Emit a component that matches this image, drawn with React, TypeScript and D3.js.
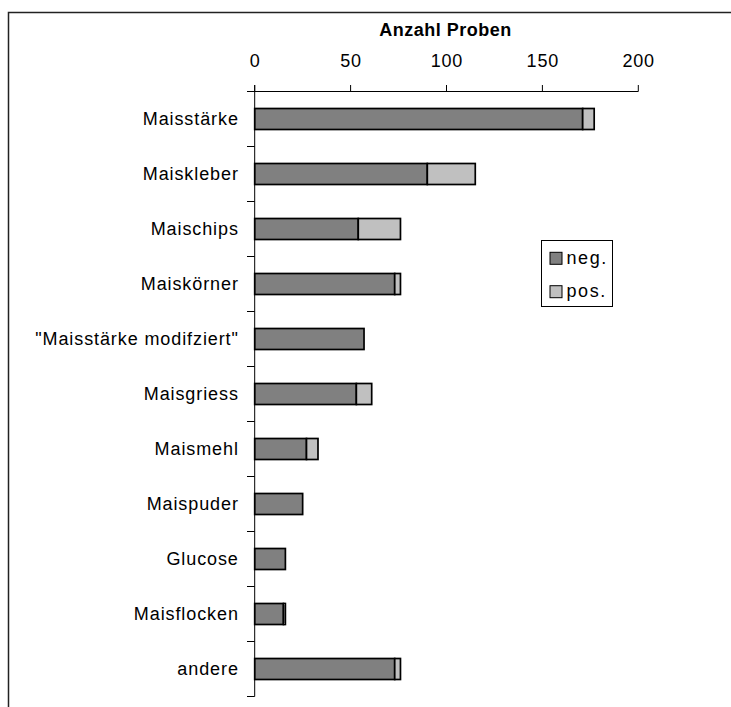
import React from "react";
import * as d3 from "d3";

const categories = [
  "Maisstärke",
  "Maiskleber",
  "Maischips",
  "Maiskörner",
  "\"Maisstärke modifziert\"",
  "Maisgriess",
  "Maismehl",
  "Maispuder",
  "Glucose",
  "Maisflocken",
  "andere",
];
const negValues = [171, 90, 54, 73, 57, 53, 27, 25, 16, 15, 73];
const posValues = [6, 25, 22, 3, 0, 8, 6, 0, 0, 1, 3];
const xTicks = [0, 50, 100, 150, 200];
const seriesNames = ["neg.", "pos."];
const seriesColors = ["#808080", "#c0c0c0"];
const axisTitle = "Anzahl Proben";

export default function App() {
  const W = 731;
  const H = 707;
  const x = d3.scaleLinear().domain([0, 200]).range([254.7, 638.3]);
  const band = d3.scaleBand<string>().domain(categories).range([91.5, 696.5]);
  const font = "'Liberation Sans', Arial, sans-serif";
  const stacked = categories.map((c, i) => ({ c, neg: negValues[i], pos: posValues[i] }));
  const stack = d3.stack<any>().keys(["neg", "pos"])(stacked);

  return (
    <svg
      width={W}
      height={H}
      style={{ position: "absolute", left: 0, top: 0, background: "#fff" }}
      fontFamily={font}
    >
      <rect x={0} y={0} width={W} height={H} fill="#fff" />
      {/* outer frame */}
      <path d={`M8.5,${H + 5} V12.5 H${W + 5}`} fill="none" stroke="#222" strokeWidth={1.5} />

      {/* title */}
      <text x={x(100) - 1} y={36} textAnchor="middle" fontSize={18} fontWeight="bold" letterSpacing={0.5} fill="#000">
        {axisTitle}
      </text>

      {/* x ticks labels */}
      {xTicks.map((t) => (
        <text key={t} x={x(t) + 0.4} y={67.3} textAnchor="middle" fontSize={18} letterSpacing={0.8} fill="#000">
          {t}
        </text>
      ))}

      {/* bars */}
      {stack.map((layer, li) =>
        layer.map((d, i) =>
          d[1] - d[0] > 0 ? (
            <rect
              key={`${li}-${i}`}
              x={x(d[0])}
              y={band(categories[i])! + band.bandwidth() / 2 - 10.5}
              width={x(d[1]) - x(d[0])}
              height={21}
              fill={seriesColors[li]}
              stroke="#000"
              strokeWidth={1.7}
            />
          ) : null
        )
      )}

      {/* x axis */}
      <line x1={247} x2={x(200)} y1={91.5} y2={91.5} stroke="#000" strokeWidth={1} />
      {xTicks.map((t) => (
        <line key={t} x1={x(t)} x2={x(t)} y1={85} y2={91.5} stroke="#000" strokeWidth={1} />
      ))}

      {/* y axis */}
      <line x1={x(0)} x2={x(0)} y1={85} y2={696.5} stroke="#000" strokeWidth={1} />
      {categories.map((c, i) => (
        <line
          key={`t${i}`}
          x1={247}
          x2={x(0)}
          y1={band(c)! + band.bandwidth()}
          y2={band(c)! + band.bandwidth()}
          stroke="#000"
          strokeWidth={1}
        />
      ))}

      {/* category labels */}
      {categories.map((c) => (
        <text
          key={c}
          x={238.8}
          y={band(c)! + band.bandwidth() / 2 + 6.3}
          textAnchor="end"
          fontSize={18}
          letterSpacing={0.9}
          fill="#000"
        >
          {c}
        </text>
      ))}

      {/* legend */}
      <rect x={541.5} y={240.5} width={71} height={66} fill="#fff" stroke="#000" strokeWidth={1} />
      {seriesNames.map((s, i) => (
        <g key={s}>
          <rect x={550} y={252.3 + i * 33.4} width={12} height={12} fill={seriesColors[i]} stroke="#000" strokeWidth={1} />
          <text x={566.5} y={263.8 + i * 33.4} fontSize={18} letterSpacing={1.6} fill="#000">
            {s}
          </text>
        </g>
      ))}
    </svg>
  );
}
